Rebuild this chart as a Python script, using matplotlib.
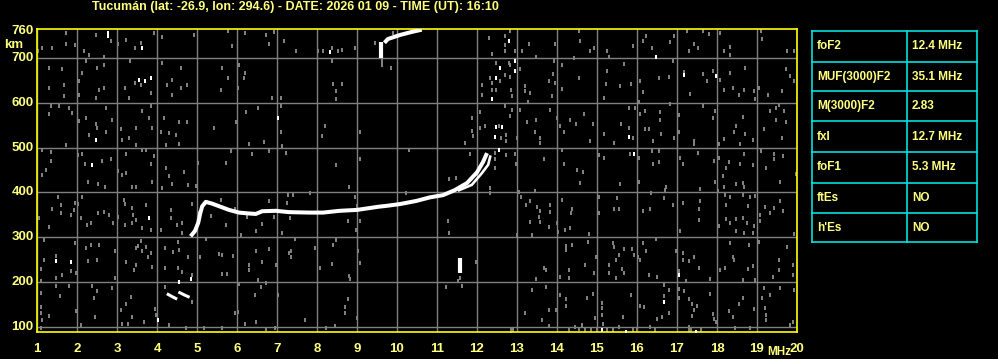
import matplotlib
matplotlib.use("Agg")
import matplotlib.pyplot as plt
from matplotlib.path import Path

# ---------------- data ----------------
title = "Tucumán (lat: -26.9, lon: 294.6) - DATE: 2026 01 09 - TIME (UT): 16:10"
x_ticks = list(range(1, 21))
y_ticks = [100, 200, 300, 400, 500, 600, 700, 760]

# main F-layer trace (O mode)
f2_freq = [4.84, 4.95, 5.03, 5.08, 5.13, 5.22, 5.38, 5.59, 5.80, 6.05, 6.30, 6.47,
           6.63, 6.97, 7.30, 7.82, 8.15, 8.57, 9.00, 9.53, 9.73, 10.07, 10.48,
           10.82, 11.15, 11.44, 11.75, 12.00, 12.15, 12.25]
f2_height = [302, 314, 332, 353, 369, 379, 375, 368, 361, 355, 353, 352,
             358, 359, 356, 355, 355, 359, 361, 368, 370, 374, 381,
             389, 394, 405, 421, 445, 468, 488]
# X mode branch
fx_freq = [11.55, 11.87, 12.12, 12.28, 12.33]
fx_height = [405, 417, 443, 462, 480]
# low (E-region-like) fragments
e1_freq = [4.28, 4.38, 4.47]
e1_height = [172, 167, 163]
e2_freq = [4.57, 4.68, 4.78]
e2_height = [176, 171, 167]
# spike at 11.57 MHz
spike_freq = [11.57, 11.57]
spike_height = [219, 253]
# second hop
hop_bar_freq = [9.60, 9.60]
hop_bar_height = [700, 736]
hop_freq = [9.72, 9.77, 10.07, 10.37, 10.57]
hop_height = [738, 743, 752, 759, 763]

# scattered interference (grey) pixels
noise_grey = [
    (1.72, 757), (2.47, 753), (2.84, 738), (3.23, 742), (3.59, 734), (4.13, 747), (3.93, 757),
    (4.93, 753), (5.78, 762), (6.19, 757), (6.73, 753), (6.92, 759), (7.17, 738), (6.80, 731),
    (1.13, 723), (1.38, 722), (1.72, 731), (1.95, 729), (2.17, 717), (2.30, 708), (2.68, 702),
    (3.03, 731), (3.45, 723), (5.88, 727), (1.03, 716), (1.30, 678), (1.63, 675), (2.13, 667),
    (2.22, 693), (2.51, 678), (2.67, 686), (2.05, 649), (1.68, 641), (1.30, 634), (2.55, 630),
    (2.68, 634), (2.05, 619), (1.68, 615), (2.47, 611), (3.33, 693), (3.59, 641), (3.20, 634),
    (3.45, 645), (3.84, 623), (3.30, 611), (4.13, 690), (4.59, 678), (4.38, 652), (4.24, 641),
    (4.59, 634), (4.76, 640), (4.38, 619), (5.63, 678), (5.59, 630), (5.78, 656), (6.05, 686),
    (6.19, 667), (6.03, 634), (6.18, 656), (6.88, 611), (7.09, 611), (1.34, 593), (1.55, 593),
    (1.80, 589), (1.88, 578), (1.30, 576), (2.73, 589), (2.88, 563), (2.22, 567), (2.47, 552),
    (2.51, 544), (2.30, 529), (2.72, 535), (2.05, 559), (3.63, 582), (3.80, 567), (3.84, 593),
    (3.09, 541), (3.47, 544), (3.88, 544), (4.09, 535), (4.30, 533), (4.47, 529), (4.18, 567),
    (4.55, 558), (4.76, 558), (5.43, 544), (6.23, 580), (6.53, 589), (7.09, 593), (7.09, 535),
    (6.68, 513), (6.30, 509), (5.97, 558), (3.12, 518), (3.30, 522), (3.47, 507), (3.72, 496),
    (4.22, 507), (4.55, 509), (1.72, 506), (1.13, 496), (1.34, 491), (1.34, 471), (2.03, 483),
    (2.13, 486), (2.63, 470), (2.84, 474), (2.20, 464), (3.03, 449), (3.22, 486), (3.92, 481),
    (3.84, 464), (3.63, 496), (4.22, 455), (4.30, 436), (4.68, 446), (5.03, 466), (5.73, 466),
    (5.84, 492), (6.38, 486), (6.80, 492), (7.23, 489), (7.13, 503), (1.13, 440), (1.22, 451),
    (3.13, 440), (3.22, 444),
    (7.48, 717), (8.03, 717), (8.15, 717), (8.38, 723), (8.53, 716), (8.63, 719), (8.94, 722),
    (8.38, 695), (8.40, 643), (8.63, 643), (8.48, 626), (8.48, 610), (9.44, 734), (9.63, 686),
    (9.63, 695), (9.84, 678), (9.90, 757), (8.19, 548), (8.13, 526), (9.08, 535), (9.08, 474),
    (8.48, 462), (10.29, 494), (12.29, 745), (12.38, 710), (12.69, 749), (12.69, 716),
    (12.69, 730), (12.83, 760), (12.94, 716), (13.13, 716), (13.30, 731), (13.48, 702),
    (12.48, 690), (12.80, 690), (12.83, 686), (13.07, 675), (12.58, 649), (12.69, 663),
    (12.82, 659), (12.32, 656), (12.38, 645), (12.13, 640), (12.38, 630), (12.13, 619),
    (12.48, 630), (12.86, 630), (12.88, 615), (13.19, 637), (13.32, 623), (13.19, 626),
    (13.28, 602), (12.69, 593), (12.88, 585), (13.07, 585), (12.83, 570), (12.07, 580),
    (11.88, 567), (12.19, 548), (12.08, 544), (11.88, 537), (11.90, 526), (11.69, 511),
    (12.55, 548), (12.73, 529), (12.61, 522), (12.73, 515), (13.25, 558), (13.48, 563),
    (13.44, 535), (13.58, 522), (13.58, 511), (13.00, 522), (11.82, 486), (12.44, 489),
    (12.73, 483), (12.94, 486), (12.97, 464), (12.44, 474), (12.44, 455), (11.48, 433),
    (11.30, 431),
    (14.54, 760), (14.57, 738), (14.83, 717), (14.93, 722), (15.25, 716), (15.29, 704),
    (15.90, 727), (16.15, 738), (16.23, 749), (16.38, 723), (16.83, 736), (16.93, 749),
    (17.25, 760), (17.42, 732), (17.29, 717), (17.52, 722), (17.65, 760), (17.79, 754),
    (18.08, 757), (18.17, 717), (18.33, 725), (18.32, 708), (19.10, 762), (19.13, 744),
    (19.75, 717), (19.93, 717), (13.96, 731), (14.42, 701), (13.92, 693), (14.13, 684),
    (13.90, 665), (13.79, 649), (13.96, 645), (14.13, 632), (13.88, 615), (14.54, 656),
    (15.25, 671), (15.23, 643), (15.18, 611), (15.58, 637), (15.68, 687), (15.85, 643),
    (16.08, 649), (16.15, 625), (16.04, 602), (16.54, 656), (16.79, 659), (16.90, 693),
    (17.18, 670), (17.33, 620), (17.65, 665), (17.75, 649), (17.90, 671), (18.08, 652),
    (18.17, 630), (18.33, 667), (18.40, 634), (18.54, 617), (18.69, 678), (18.68, 630),
    (18.93, 626), (18.94, 610), (19.04, 634), (19.27, 617), (19.63, 626), (19.73, 675),
    (19.83, 660), (19.93, 649), (13.83, 585), (14.00, 567), (14.33, 563), (14.48, 552),
    (14.08, 548), (14.18, 535), (14.68, 576), (14.90, 553), (14.83, 515), (15.18, 531),
    (15.43, 511), (15.60, 552), (15.79, 588), (15.79, 544), (15.90, 522), (15.96, 589),
    (16.07, 576), (16.19, 582), (16.21, 541), (16.29, 541), (16.40, 515), (16.58, 580),
    (16.58, 563), (16.60, 531), (16.83, 598), (16.93, 522), (17.04, 573), (17.04, 535),
    (17.43, 516), (17.43, 509), (17.65, 593), (17.90, 567), (17.96, 582), (18.04, 509),
    (18.18, 520), (18.43, 535), (18.48, 548), (18.65, 568), (18.71, 531), (18.58, 509),
    (18.90, 518), (19.18, 541), (19.33, 583), (19.48, 589), (19.48, 563), (19.63, 522),
    (19.68, 583), (19.73, 558), (19.54, 595), (14.13, 494), (14.18, 464), (14.50, 451),
    (14.65, 446), (15.04, 483), (15.18, 477), (15.82, 486), (16.04, 476), (16.38, 492),
    (16.54, 492), (16.40, 464), (16.54, 468), (17.08, 476), (17.15, 464), (17.52, 489),
    (17.93, 471), (18.04, 478), (18.23, 455), (18.29, 468), (18.15, 436), (18.58, 464),
    (18.68, 486), (18.90, 461), (19.10, 492), (19.23, 455), (19.43, 486), (19.43, 474),
    (19.65, 481), (19.98, 442), (13.68, 474),
    (2.28, 424), (2.53, 419), (2.70, 413), (3.38, 413), (3.47, 413), (3.88, 424), (4.13, 409),
    (4.38, 420), (4.78, 416), (4.98, 414), (1.53, 390), (1.38, 364), (1.60, 372), (1.60, 355),
    (1.85, 349), (1.93, 361), (2.10, 344), (2.13, 390), (1.95, 377), (2.03, 375), (2.53, 353),
    (2.68, 357), (2.34, 332), (2.26, 327), (2.80, 349), (2.90, 332), (3.03, 346), (3.18, 383),
    (3.20, 374), (3.38, 366), (3.40, 349), (3.20, 327), (3.37, 331), (3.47, 338), (3.72, 372),
    (3.63, 320), (3.84, 316), (4.09, 317), (4.34, 361), (4.34, 342), (4.51, 327), (4.63, 331),
    (4.62, 310), (4.88, 375), (5.03, 353), (1.05, 342), (1.30, 323), (1.18, 294), (1.95, 288),
    (2.22, 275), (2.34, 282), (2.55, 282), (2.94, 270), (2.51, 250), (2.28, 247), (1.48, 258),
    (1.18, 249), (1.09, 228), (1.84, 225), (1.97, 221), (1.48, 208), (1.63, 215), (1.09, 203),
    (3.23, 245), (3.47, 275), (3.53, 280), (3.63, 270), (3.72, 279), (3.84, 265), (3.78, 255),
    (3.47, 238), (3.43, 227), (3.60, 292), (3.88, 234), (2.95, 208), (4.20, 275), (4.20, 230),
    (4.40, 267), (4.53, 290), (4.55, 271), (4.53, 230), (4.63, 223), (4.78, 256), (5.07, 255),
    (4.88, 215), (5.23, 295), (5.55, 262), (5.63, 260), (5.63, 218), (5.76, 218), (5.90, 258),
    (6.48, 270), (6.63, 245), (6.30, 238), (6.30, 227), (6.53, 204), (6.72, 197), (6.98, 238),
    (7.03, 171), (6.80, 273), (7.30, 264), (7.13, 310), (6.93, 346), (7.26, 377), (7.28, 394),
    (6.80, 381), (6.09, 305), (5.95, 364), (5.73, 327), (5.59, 383), (5.34, 347), (6.26, 346),
    (6.62, 329), (6.47, 314), (1.47, 191), (1.80, 191), (1.57, 168), (1.09, 176), (1.09, 143),
    (1.09, 130), (1.30, 124), (1.12, 115), (1.09, 96), (1.97, 136), (2.09, 104), (2.38, 191),
    (2.49, 180), (2.43, 165), (2.45, 121), (2.88, 186), (3.23, 151), (3.34, 167), (3.09, 137),
    (3.13, 107), (3.28, 107), (3.38, 121), (3.68, 111), (3.95, 139), (3.97, 127), (4.30, 104),
    (4.20, 188), (4.88, 156), (4.73, 96), (5.18, 96), (5.63, 96), (5.95, 130), (6.03, 133),
    (6.20, 106), (6.47, 111), (6.72, 94), (6.95, 96), (6.05, 195), (6.60, 188), (6.45, 171),
    (8.80, 413), (8.94, 390), (9.00, 369), (9.08, 337), (8.97, 317), (8.78, 337), (7.40, 394),
    (7.32, 342), (7.83, 398), (7.44, 295), (8.48, 294), (8.40, 282), (7.94, 275), (7.36, 270),
    (7.36, 255), (8.38, 241), (8.08, 232), (9.03, 270), (9.08, 243), (8.80, 213), (8.83, 207),
    (8.78, 161), (8.69, 143), (8.69, 131), (7.69, 115), (8.23, 98), (8.44, 101), (9.00, 119),
    (10.23, 398), (11.28, 337), (11.30, 310), (11.23, 189), (11.58, 208), (11.63, 191),
    (11.53, 203), (11.98, 245), (12.33, 411), (12.33, 398), (13.05, 401), (13.09, 390),
    (13.23, 372), (13.33, 381), (13.44, 404), (13.50, 368), (13.58, 359), (13.55, 346),
    (13.33, 334), (13.58, 334), (13.00, 305), (13.38, 305), (13.48, 206), (13.38, 183),
    (13.19, 131), (13.63, 115), (12.86, 91),
    (15.57, 419), (16.73, 413), (16.71, 405), (16.35, 398), (14.58, 422), (16.04, 424),
    (17.58, 407), (18.17, 413), (18.48, 420), (18.65, 422), (18.68, 413), (19.58, 424),
    (17.96, 424), (18.02, 404), (14.13, 384), (13.82, 372), (13.83, 357), (14.38, 364),
    (14.35, 353), (15.04, 390), (15.50, 387), (15.42, 364), (15.54, 362), (15.04, 355),
    (16.15, 359), (16.33, 364), (16.68, 387), (16.90, 372), (17.15, 377), (17.58, 381),
    (17.54, 362), (17.54, 338), (17.08, 314), (18.21, 394), (18.33, 390), (18.23, 372),
    (18.65, 394), (18.83, 390), (18.96, 391), (18.77, 369), (18.23, 341), (18.32, 331),
    (18.48, 341), (18.48, 313), (18.65, 343), (18.75, 331), (18.92, 324), (18.90, 309),
    (18.67, 309), (18.04, 324), (19.08, 349), (19.08, 336), (19.21, 368), (19.42, 366),
    (19.58, 381), (19.65, 359), (19.33, 353), (19.93, 308), (13.79, 322), (14.00, 331),
    (14.02, 312), (14.21, 317), (14.33, 320), (14.79, 307), (14.77, 290), (14.23, 280),
    (14.23, 271), (14.38, 282), (13.67, 232), (13.73, 227), (14.29, 227), (14.29, 208),
    (14.08, 212), (14.71, 238), (14.92, 219), (14.98, 255), (15.40, 288), (15.43, 279),
    (15.48, 249), (15.67, 273), (15.54, 260), (15.88, 273), (15.92, 260), (15.29, 238),
    (15.29, 219), (15.48, 208), (15.63, 228), (15.67, 219), (16.02, 256), (16.08, 250),
    (16.15, 288), (16.23, 270), (16.29, 215), (16.50, 210), (16.48, 295), (16.98, 270),
    (17.04, 225), (17.15, 265), (17.15, 250), (17.29, 247), (17.43, 256), (17.54, 232),
    (17.23, 203), (17.83, 206), (18.08, 227), (18.21, 232), (18.40, 255), (18.43, 249),
    (18.33, 288), (18.65, 204), (18.77, 228), (18.90, 235), (18.96, 204), (18.79, 282),
    (19.04, 290), (19.40, 212), (19.54, 250), (19.54, 227), (19.75, 279), (19.90, 238),
    (19.90, 215), (19.93, 182), (13.73, 189), (14.08, 171), (14.23, 161), (14.23, 146),
    (13.79, 137), (13.98, 137), (14.75, 163), (14.90, 174), (15.13, 153), (15.13, 141),
    (15.13, 126), (15.15, 106), (14.96, 119), (14.63, 104), (14.46, 100), (14.29, 92),
    (13.79, 101), (15.54, 99), (15.65, 121), (15.85, 171), (16.08, 146), (16.18, 143),
    (16.32, 99), (16.50, 116), (16.63, 121), (16.67, 193), (16.68, 168), (16.79, 182),
    (16.79, 130), (17.04, 185), (17.17, 180), (17.04, 163), (17.29, 161), (17.38, 151),
    (17.42, 137), (17.50, 146), (17.38, 124), (17.29, 99), (17.83, 173), (17.90, 128),
    (17.93, 116), (17.98, 111), (18.29, 134), (18.40, 121), (18.46, 98), (18.54, 150),
    (18.65, 163), (18.83, 96), (18.92, 140), (19.13, 163), (19.21, 141), (19.23, 126),
    (19.23, 115), (19.17, 186), (19.58, 186), (19.33, 171), (19.90, 111), (19.83, 104),
    (12.85, 93), (12.90, 93), (14.55, 94), (14.70, 93), (14.85, 93), (15.00, 92), (15.25, 93),
    (15.40, 92), (15.90, 93), (16.00, 92), (16.45, 93), (17.30, 92), (17.35, 92), (17.60, 92),
]
# scattered bright (white) pixels
noise_white = [
    (2.78, 757), (2.78, 750), (3.63, 722), (3.55, 652), (3.69, 649), (3.84, 656), (7.03, 567),
    (2.48, 518), (2.38, 462), (8.33, 714), (12.80, 738), (12.58, 678), (12.94, 693),
    (12.94, 672), (12.48, 656), (12.38, 610), (12.63, 546), (12.55, 496), (16.48, 702),
    (17.18, 663), (17.98, 660), (15.79, 525), (15.93, 486), (3.80, 342), (1.47, 247),
    (1.84, 245), (4.03, 115), (16.68, 155), (17.04, 215), (15.13, 92), (15.73, 89),
    (17.48, 89), (4.55, 200), (4.84, 206), (12.48, 546), (12.45, 525),
]

table_params = ["foF2", "MUF(3000)F2", "M(3000)F2", "fxI", "foF1", "ftEs", "h'Es"]
table_values = ["12.4 MHz", "35.1 MHz", "2.83", "12.7 MHz", "5.3 MHz", "NO", "NO"]

# ---------------- style ----------------
W, H = 998, 359
YEL = "#ffff80"
FONT = "Liberation Sans"
fig = plt.figure(figsize=(W / 100, H / 100), dpi=100, facecolor="black")


def fx(px):
    return px / W


def fy(py):
    return 1 - py / H


ax = fig.add_axes([fx(37), fy(332), fx(797) - fx(37), fy(29) - fy(332)])
ax.set_facecolor("black")
ax.set_xlim(1, 20)
ax.set_ylim(88, 765.5)
ax.set_xticks(x_ticks)
ax.set_yticks([t for t in y_ticks if t != 760])
ax.grid(True, color="#808080", lw=1.0)
ax.set_axisbelow(True)
ax.tick_params(length=0, labelbottom=False, labelleft=False)
for s in ax.spines.values():
    s.set_color("#ffff00")
    s.set_linewidth(1.2)

# small vertical pixel block marker (2 px wide x 3 px tall)
pix = Path([(-1, -1.5), (1, -1.5), (1, 1.5), (-1, 1.5), (-1, -1.5)],
           [Path.MOVETO, Path.LINETO, Path.LINETO, Path.LINETO, Path.CLOSEPOLY])

gx = [p[0] for p in noise_grey]
gy = [p[1] for p in noise_grey]
ax.scatter(gx, gy, marker=pix, s=5.5, color="#808080", linewidths=0, zorder=2)
wx = [p[0] for p in noise_white]
wy = [p[1] for p in noise_white]
ax.scatter(wx, wy, marker=pix, s=6.0, color="white", linewidths=0, zorder=3)

lkw = dict(color="white", lw=2.9, solid_capstyle="butt", zorder=4)
ax.plot(f2_freq, f2_height, **lkw)
ax.plot(fx_freq, fx_height, color="white", lw=1.9, zorder=4)
ax.plot(e1_freq, e1_height, color="white", lw=2.2, zorder=4)
ax.plot(e2_freq, e2_height, color="white", lw=2.2, zorder=4)
ax.plot(spike_freq, spike_height, color="white", lw=3.0, solid_capstyle="butt", zorder=4)
ax.plot(hop_bar_freq, hop_bar_height, color="white", lw=3.0, solid_capstyle="butt", zorder=4)
ax.plot(hop_freq, hop_height, color="white", lw=2.9, zorder=4)

tkw = dict(color=YEL, family=FONT, fontweight="bold")
# axis labels
for t in x_ticks:
    ax.text(t, -0.035, str(t), transform=ax.get_xaxis_transform(),
            ha="center", va="top", fontsize=9.5, **tkw)
for t in y_ticks:
    ax.text(-0.0045, t, str(t), transform=ax.get_yaxis_transform(),
            ha="right", va="center", fontsize=9.5, **tkw)
fig.text(fx(14), fy(45), "km", ha="center", va="center", fontsize=9.5, **tkw)
fig.text(fx(779), fy(352), "MHz", ha="center", va="center", fontsize=8.5, **tkw)
fig.text(fx(295), fy(7), title, ha="center", va="center", fontsize=9, **tkw)

# parameter table
tab = fig.add_axes([fx(812), fy(242), fx(977) - fx(812), fy(30) - fy(242)])
tab.set_xlim(812, 977)
tab.set_ylim(242, 30)
tab.axis("off")
rows = [30.7, 61.7, 91.3, 121.3, 151.7, 182.7, 212.7, 242.3]
cyan = "#00e0e0"
for r in rows:
    tab.plot([812.3, 977.3], [r, r], color=cyan, lw=1.2, clip_on=False)
for c in [812.3, 907.3, 977.3]:
    tab.plot([c, c], [rows[0], rows[-1]], color=cyan, lw=1.2, clip_on=False)
for i, (p, v) in enumerate(zip(table_params, table_values)):
    yc = (rows[i] + rows[i + 1]) / 2
    tab.text(817, yc, p, ha="left", va="center", fontsize=8.5, **tkw)
    tab.text(912, yc, v, ha="left", va="center", fontsize=8.5, **tkw)

fig.savefig("out.png", dpi=100, facecolor="black")
